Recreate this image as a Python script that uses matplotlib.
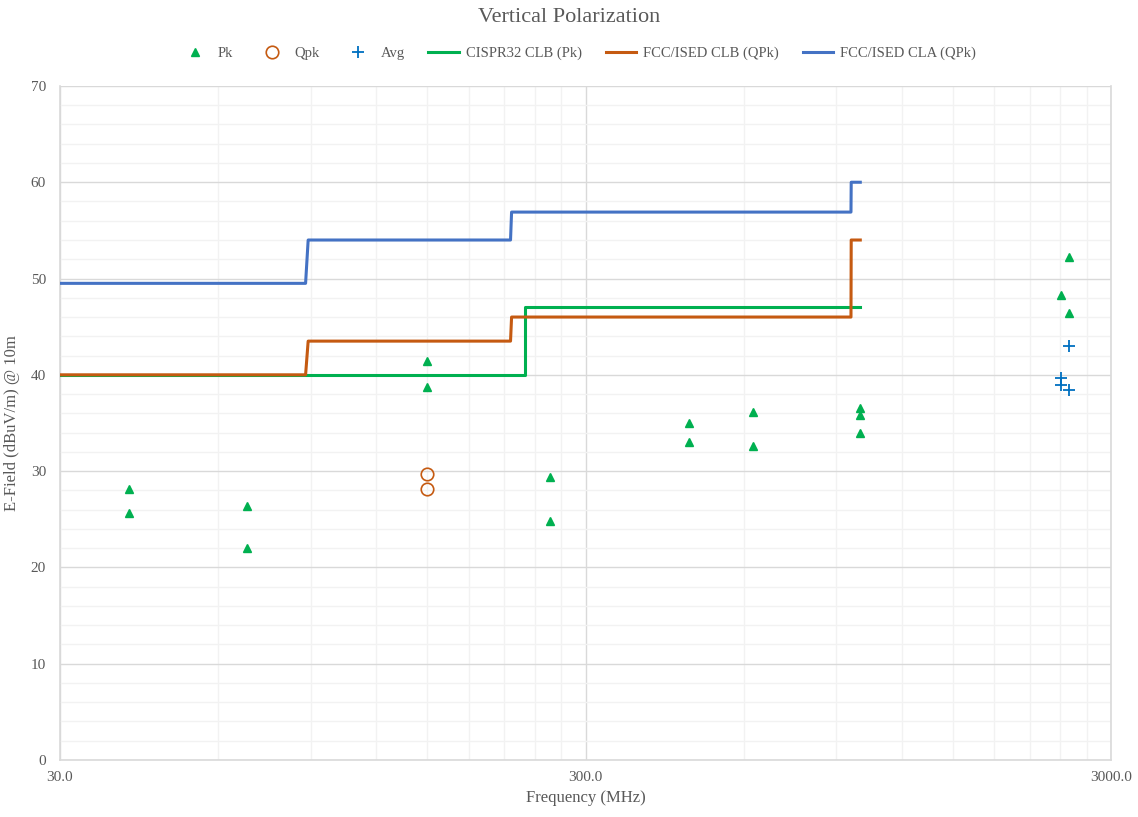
import numpy as np
import matplotlib.pyplot as plt
from matplotlib.ticker import FixedLocator, NullFormatter

plt.rcParams['font.family'] = ['Liberation Serif', 'DejaVu Serif']

# Mediciones (MHz, dBuV/m)
pk_freq = [40.6, 40.6, 68.1, 68.1, 150.0, 150.0, 257.0, 257.0, 473.0, 473.0,
           624.0, 624.0, 998.0, 998.0, 998.0, 2409.0, 2497.0, 2497.0]
pk_level = [28.1, 25.6, 26.4, 22.0, 41.4, 38.7, 29.4, 24.8, 35.0, 33.0,
            36.1, 32.6, 36.6, 35.8, 34.0, 48.3, 52.2, 46.4]

qpk_freq = [150.0, 150.0]
qpk_level = [29.7, 28.1]

avg_freq = [2497.0, 2409.0, 2409.0, 2497.0]
avg_level = [43.0, 39.7, 38.9, 38.4]

# Limites
cispr_freq = [30, 230, 230, 1000]
cispr_level = [40, 40, 47, 47]

fcc_b_freq = [30, 88, 89, 216, 217, 960, 961, 1000]
fcc_b_level = [40, 40, 43.5, 43.5, 46, 46, 54, 54]

fcc_a_freq = [30, 88, 89, 216, 217, 960, 961, 1000]
fcc_a_level = [49.5, 49.5, 54, 54, 56.9, 56.9, 60, 60]

VERDE = '#00B050'
NARANJA = '#C55A11'
AZUL = '#4472C4'
AZUL_AVG = '#0070C0'
GRIS = '#595959'

fig = plt.figure(figsize=(11.38, 8.17), dpi=100)
ax = fig.add_axes([0.0527, 0.0698, 0.9236, 0.825])

ax.plot(pk_freq, pk_level, '^', color=VERDE, markersize=6, linestyle='none', label='Pk', zorder=5)
ax.plot(qpk_freq, qpk_level, 'o', markerfacecolor='none', markeredgecolor=NARANJA,
        markersize=9, markeredgewidth=1.2, linestyle='none', label='Qpk', zorder=5)
ax.plot(avg_freq, avg_level, '+', color=AZUL_AVG, markersize=8, markeredgewidth=1.3,
        linestyle='none', label='Avg', zorder=5)
ax.plot(cispr_freq, cispr_level, color=VERDE, lw=2.2, label='CISPR32 CLB (Pk)', zorder=3)
ax.plot(fcc_b_freq, fcc_b_level, color=NARANJA, lw=2.2, label='FCC/ISED CLB (QPk)', zorder=3)
ax.plot(fcc_a_freq, fcc_a_level, color=AZUL, lw=2.2, label='FCC/ISED CLA (QPk)', zorder=3)

ax.set_xscale('log')
ax.set_xlim(30, 3000)
ax.set_ylim(0, 70)

ax.xaxis.set_major_locator(FixedLocator([30, 300, 3000]))
ax.set_xticklabels(['30.0', '300.0', '3000.0'])
menores = [30 * k for k in range(2, 10)] + [300 * k for k in range(2, 10)]
ax.xaxis.set_minor_locator(FixedLocator(menores))
ax.xaxis.set_minor_formatter(NullFormatter())
ax.set_yticks(np.arange(0, 71, 10))
ax.set_yticks(np.arange(0, 71, 2), minor=True)

ax.grid(which='major', color='#D9D9D9', lw=1.0, zorder=0)
ax.grid(which='minor', color='#F2F2F2', lw=1.0, zorder=0)
ax.set_axisbelow(True)

for lado in ['left', 'bottom', 'right']:
    ax.spines[lado].set_color('#D9D9D9')
    ax.spines[lado].set_linewidth(1.2)
ax.spines['top'].set_visible(False)
ax.tick_params(which='both', length=0, colors=GRIS, labelsize=11)
ax.tick_params(axis='x', pad=8)
ax.tick_params(axis='y', pad=10)

ax.set_xlabel('Frequency (MHz)', color=GRIS, fontsize=12, labelpad=4)
ax.set_ylabel('E-Field (dBuV/m) @ 10m', color=GRIS, fontsize=12, labelpad=8)
fig.suptitle('Vertical Polarization', color=GRIS, fontsize=16, y=0.99)

fig.legend(loc='center', bbox_to_anchor=(0.508, 0.935), ncol=6, frameon=False,
           fontsize=10.5, labelcolor=GRIS, handlelength=2.1, columnspacing=1.6,
           handletextpad=0.5)

fig.savefig('out.png', dpi=100)
